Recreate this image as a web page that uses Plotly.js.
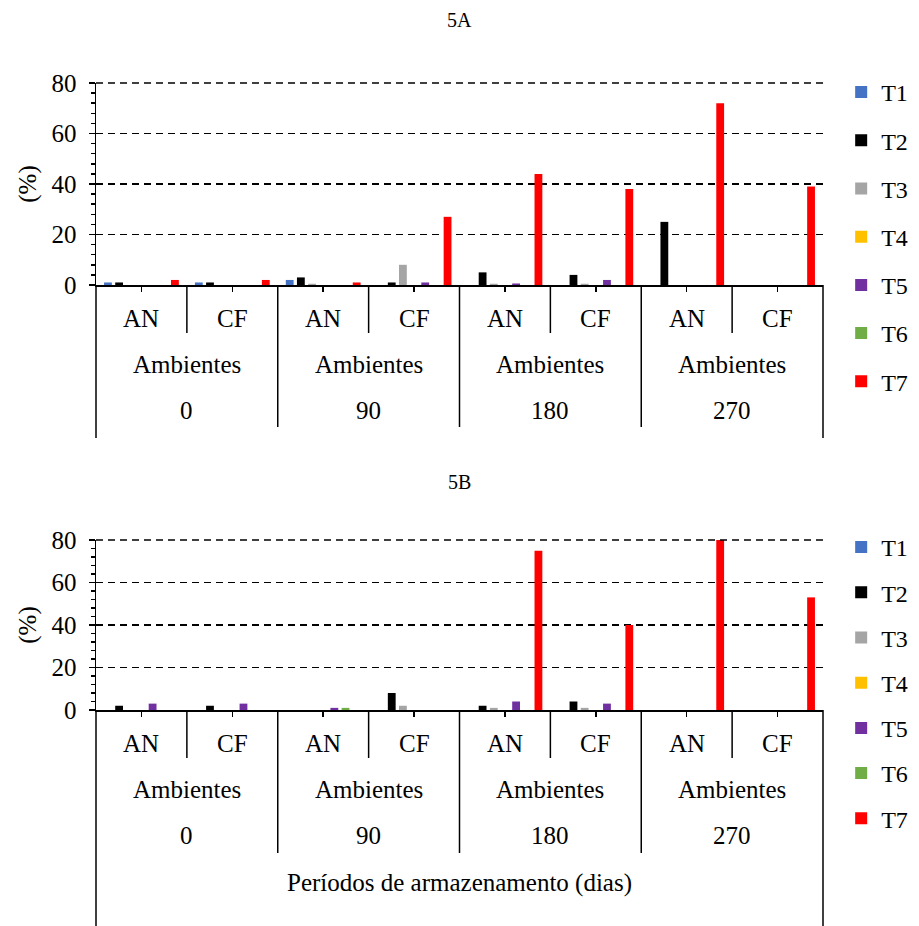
<!DOCTYPE html>
<html><head><meta charset="utf-8">
<script src="https://cdn.plot.ly/plotly-3.0.1.min.js"></script>
<style>html,body{margin:0;padding:0;background:#fff;}#chart{width:919px;height:926px;}</style>
</head><body><div id="chart"></div>
<script>
// ---- data ----
const periods = ['0', '90', '180', '270'];
const environments = ['AN', 'CF'];
const groupLabel = 'Ambientes';
const axisLabel = 'Períodos de armazenamento (dias)';
const yTitle = '(%)';
const titles = ['5A', '5B'];
const treatments = ['T1', 'T2', 'T3', 'T4', 'T5', 'T6', 'T7'];
const colors = ['#4472C4', '#000000', '#A5A5A5', '#FFC000', '#7030A0', '#70AD47', '#FF0000'];

// Chart 5A  (order: 0 AN, 0 CF, 90 AN, 90 CF, 180 AN, 180 CF, 270 AN, 270 CF)
const a_T1 = [1, 1, 2, 0, 0, 0, 0, 0];
const a_T2 = [1, 1, 3, 1, 5, 4, 25, 0];
const a_T3 = [0, 0, 0.5, 8, 0.5, 0.5, 0, 0];
const a_T4 = [0, 0, 0, 0, 0, 0, 0, 0];
const a_T5 = [0, 0, 0, 1, 0.6, 2, 0, 0];
const a_T6 = [0, 0, 0, 0, 0, 0, 0, 0];
const a_T7 = [2, 2, 1, 27, 44, 38, 72, 39];

// Chart 5B
const b_T1 = [0, 0, 0, 0, 0, 0, 0, 0];
const b_T2 = [2, 2, 0, 8, 2, 4, 0, 0];
const b_T3 = [0, 0, 0, 2, 1, 1, 0, 0];
const b_T4 = [0, 0, 0, 0, 0, 0, 0, 0];
const b_T5 = [3, 3, 1, 0, 4, 3, 0, 0];
const b_T6 = [0, 0, 1, 0, 0, 0, 0, 0];
const b_T7 = [0, 0, 0, 0, 75, 40, 80, 53];

const seriesA = [a_T1, a_T2, a_T3, a_T4, a_T5, a_T6, a_T7];
const seriesB = [b_T1, b_T2, b_T3, b_T4, b_T5, b_T6, b_T7];

// ---- layout helpers ----
const W = 919, H = 926;
const FONT = 'Liberation Serif';
const fs = 25;
const py = v => 1 - v / H;            // pixel row -> paper y
const cats = [];
periods.forEach(p => environments.forEach(e => cats.push(p + ' ' + e)));
const nC = cats.length;

const panels = [
  {top: 83, base: 285, title: 20, outer: 153, period: 142, legendTop: 70, gap: 14, xa: 'x', ya: 'y', leg: 'legend', data: seriesA, bottomLabel: false},
  {top: 540, base: 710, title: 482, outer: 216, period: 143, legendTop: 525, gap: 11, xa: 'x2', ya: 'y2', leg: 'legend2', data: seriesB, bottomLabel: true}
];

const traces = [];
panels.forEach((pn, pi) => {
  pn.data.forEach((vals, ti) => {
    traces.push({
      type: 'bar', x: cats, y: vals, name: treatments[ti],
      marker: {color: colors[ti], line: {width: 0}},
      xaxis: pn.xa, yaxis: pn.ya, legend: pn.leg,
      legendgroup: pi + treatments[ti], hoverinfo: 'skip'
    });
  });
});

const shapes = [], annotations = [];
const line = (x, y0, y1) => shapes.push({type: 'line', xref: 'paper', yref: 'paper', x0: x, x1: x, y0: py(y0), y1: py(y1), line: {color: '#000', width: 1.5}});
const txt = (text, x, y, size) => annotations.push({text, x, y: py(y), xref: 'paper', yref: 'paper', showarrow: false, xanchor: 'center', yanchor: 'middle', font: {family: FONT, size: size || fs, color: '#000'}});

const layout = {
  width: W, height: H,
  margin: {l: 96, r: 96, t: 0, b: 0},
  paper_bgcolor: '#fff', plot_bgcolor: '#fff',
  barmode: 'group', bargap: 0.14, bargroupgap: 0.3,
  font: {family: FONT, size: fs, color: '#000'},
  showlegend: true
};

panels.forEach((pn, pi) => {
  const sfx = pi === 0 ? '' : '2';
  layout['xaxis' + sfx] = {
    type: 'category', range: [-0.5, nC - 0.5], domain: [0, 1], anchor: 'y' + sfx,
    showticklabels: false, ticks: 'outside', ticklen: 5, tickcolor: '#000', tickwidth: 1.5,
    showline: true, linecolor: '#000', linewidth: 1.5, showgrid: false, zeroline: false, fixedrange: true
  };
  layout['yaxis' + sfx] = {
    domain: [py(pn.base), py(pn.top)], anchor: 'x' + sfx,
    range: [0, 80], tickmode: 'linear', tick0: 0, dtick: 20,
    showgrid: true, gridcolor: '#000', gridwidth: 1.5, griddash: '7px,5px',
    showline: true, linecolor: '#000', linewidth: 1.5, zeroline: false,
    ticks: 'outside', ticklen: 6, tickcolor: '#000', tickwidth: 1.5,
    ticklabelstandoff: 7,
    minor: {dtick: 4, ticks: 'outside', ticklen: 4, tickcolor: '#000', showgrid: false},
    tickfont: {family: FONT, size: fs, color: '#000'},
    title: {text: yTitle, font: {family: FONT, size: fs, color: '#000'}, standoff: 8},
    fixedrange: true
  };
  // top dashed gridline (at 80)
  shapes.push({type: 'line', xref: 'paper', yref: 'paper', x0: 0, x1: 1, y0: py(pn.top), y1: py(pn.top), line: {color: '#000', width: 1.5, dash: '7px,5px'}});
  layout[pn.leg] = {
    x: 1.025, xanchor: 'left', y: py(pn.legendTop), yanchor: 'top',
    bgcolor: 'rgba(0,0,0,0)', borderwidth: 0,
    font: {family: FONT, size: 24, color: '#000'},
    traceorder: 'grouped', tracegroupgap: pn.gap, itemclick: false
  };
  // title
  txt(titles[pi], 0.5, pn.title, 20);
  // outer vertical lines
  line(0, pn.base, pn.base + pn.outer);
  line(1, pn.base, pn.base + pn.outer);
  periods.forEach((p, k) => {
    // separator between the two environments
    line((2 * k + 1) / nC, pn.base, pn.base + 48);
    // separator between periods
    if (k < periods.length - 1) line((2 * k + 2) / nC, pn.base, pn.base + pn.period);
    environments.forEach((e, j) => txt(e, (2 * k + j + 0.5) / nC, pn.base + 33));
    txt(groupLabel, (2 * k + 1) / nC, pn.base + 79);
    txt(p, (2 * k + 1) / nC, pn.base + 125);
  });
  if (pn.bottomLabel) txt(axisLabel, 0.5, pn.base + 173);
});
layout.shapes = shapes;
layout.annotations = annotations;

Plotly.newPlot('chart', traces, layout, {displayModeBar: false, staticPlot: true});
</script>
</body></html>
